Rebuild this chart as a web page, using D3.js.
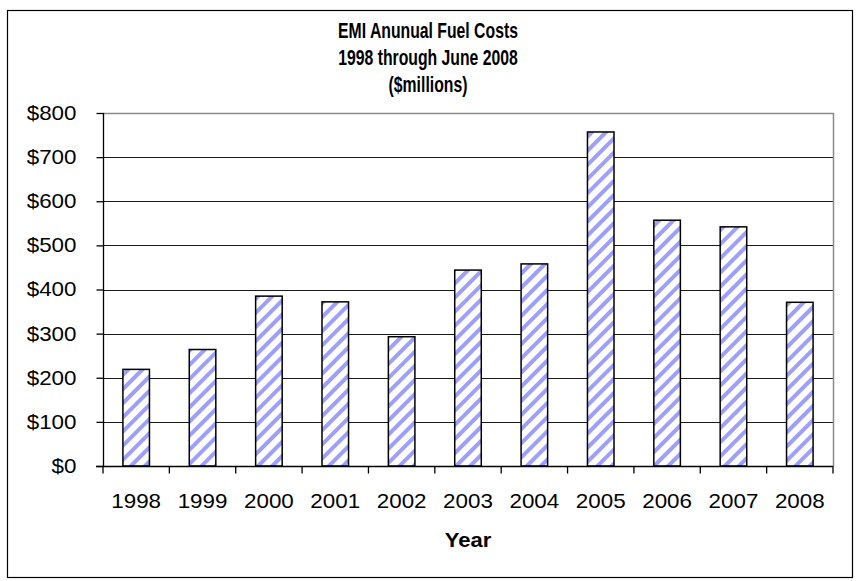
<!DOCTYPE html>
<html>
<head>
<meta charset="utf-8">
<script src="https://cdn.jsdelivr.net/npm/d3@7"></script>
<style>
  body { margin: 0; background: #fff; }
  text { font-family: "Liberation Sans", Arial, sans-serif; }
</style>
</head>
<body>
<script>
// annual fuel costs, $ millions
var years = ["1998", "1999", "2000", "2001", "2002", "2003", "2004", "2005", "2006", "2007", "2008"];
var costs = [219, 264, 385, 372, 293, 444, 458, 757, 557, 542, 371];
var yTicks = [0, 100, 200, 300, 400, 500, 600, 700, 800];
var titleLines = ["EMI Anunual Fuel Costs", "1998 through June 2008", "($millions)"];

var w = 857, h = 581;
var plot = { left: 103, right: 833, top: 113, bottom: 466 };

var svg = d3.select("body").append("svg")
    .attr("width", w)
    .attr("height", h);

// striped fill for the bars
var pat = svg.append("defs").append("pattern")
    .attr("id", "stripes")
    .attr("patternUnits", "userSpaceOnUse")
    .attr("width", 10)
    .attr("height", 10)
    .attr("patternTransform", "rotate(45)");
pat.append("rect").attr("width", 10).attr("height", 10).attr("fill", "#fff");
pat.append("rect").attr("width", 4).attr("height", 10).attr("fill", "#9e9efb");

// outer chart frame
svg.append("rect")
    .attr("x", 7.5).attr("y", 10.5)
    .attr("width", 845).attr("height", 567)
    .attr("fill", "#fff")
    .attr("stroke", "#000")
    .attr("stroke-width", 1.2);

var x = d3.scaleBand()
    .domain(years)
    .range([plot.left, plot.right])
    .paddingInner(0.6)
    .paddingOuter(0.3);

var y = d3.scaleLinear()
    .domain([0, 800])
    .range([plot.bottom, plot.top]);

// gridlines
svg.append("g")
  .selectAll("line")
  .data(yTicks.filter(function(d) { return d > 0 && d < 800; }))
  .enter().append("line")
    .attr("x1", plot.left).attr("x2", plot.right)
    .attr("y1", function(d) { return Math.round(y(d)) + 0.5; })
    .attr("y2", function(d) { return Math.round(y(d)) + 0.5; })
    .attr("stroke", "#1a1a1a")
    .attr("stroke-width", 1.2);

// plot area border (top + right in gray)
svg.append("path")
    .attr("d", "M" + plot.left + "," + (plot.top + 0.5) + "H" + (plot.right + 0.5) + "V" + plot.bottom)
    .attr("fill", "none")
    .attr("stroke", "#8a8a8a")
    .attr("stroke-width", 1.5);

// bars
svg.append("g")
  .selectAll("rect")
  .data(costs)
  .enter().append("rect")
    .attr("x", function(d, i) { return x(years[i]); })
    .attr("y", function(d) { return y(d); })
    .attr("width", x.bandwidth())
    .attr("height", function(d) { return plot.bottom - y(d); })
    .attr("fill", "url(#stripes)")
    .attr("stroke", "#000")
    .attr("stroke-width", 1.5);

// y axis
var yAxis = d3.axisLeft(y)
    .tickValues(yTicks)
    .tickSize(7)
    .tickFormat(function(d) { return "$" + d; });

var gy = svg.append("g")
    .attr("transform", "translate(" + (plot.left + 0.5) + ",0)")
    .call(yAxis);
gy.selectAll("text")
    .attr("x", null)
    .attr("font-size", "20px")
    .attr("fill", "#000")
    .attr("transform", "translate(-27,0) scale(1.12,1)")
    .style("font-family", "'Liberation Sans', Arial, sans-serif");
gy.selectAll("line, path").attr("stroke", "#000").attr("stroke-width", 1.3);
gy.select(".domain").attr("d", "M0," + plot.top + "V" + plot.bottom);

// x axis: ticks sit between categories, like Excel
var step = (plot.right - plot.left) / years.length;
var gx = svg.append("g")
    .attr("transform", "translate(0," + (plot.bottom + 0.5) + ")");
gx.append("line")
    .attr("x1", plot.left - 7).attr("x2", plot.right + 0.5)
    .attr("stroke", "#000").attr("stroke-width", 1.3);
gx.selectAll(".tk")
  .data(d3.range(years.length + 1))
  .enter().append("line")
    .attr("class", "tk")
    .attr("x1", function(i) { return plot.left + i * step; })
    .attr("x2", function(i) { return plot.left + i * step; })
    .attr("y1", 0).attr("y2", 7)
    .attr("stroke", "#000").attr("stroke-width", 1.3);
gx.selectAll(".lbl")
  .data(years)
  .enter().append("text")
    .attr("class", "lbl")
    .attr("transform", function(d) {
      return "translate(" + (x(d) + x.bandwidth() / 2) + ",41) scale(1.12,1)";
    })
    .attr("text-anchor", "middle")
    .attr("font-size", "20px")
    .text(function(d) { return d; });

// axis title
svg.append("text")
    .attr("transform", "translate(468,547) scale(1.1,1.05)")
    .attr("text-anchor", "middle")
    .attr("font-size", "20px")
    .attr("font-weight", "bold")
    .text("Year");

// chart title
svg.append("g")
  .selectAll("text")
  .data(titleLines)
  .enter().append("text")
    .attr("transform", function(d, i) {
      return "translate(428," + (38 + i * 27) + ") scale(0.83,1.15)";
    })
    .attr("text-anchor", "middle")
    .attr("font-size", "19px")
    .attr("font-weight", "bold")
    .text(function(d) { return d; });
</script>
</body>
</html>
